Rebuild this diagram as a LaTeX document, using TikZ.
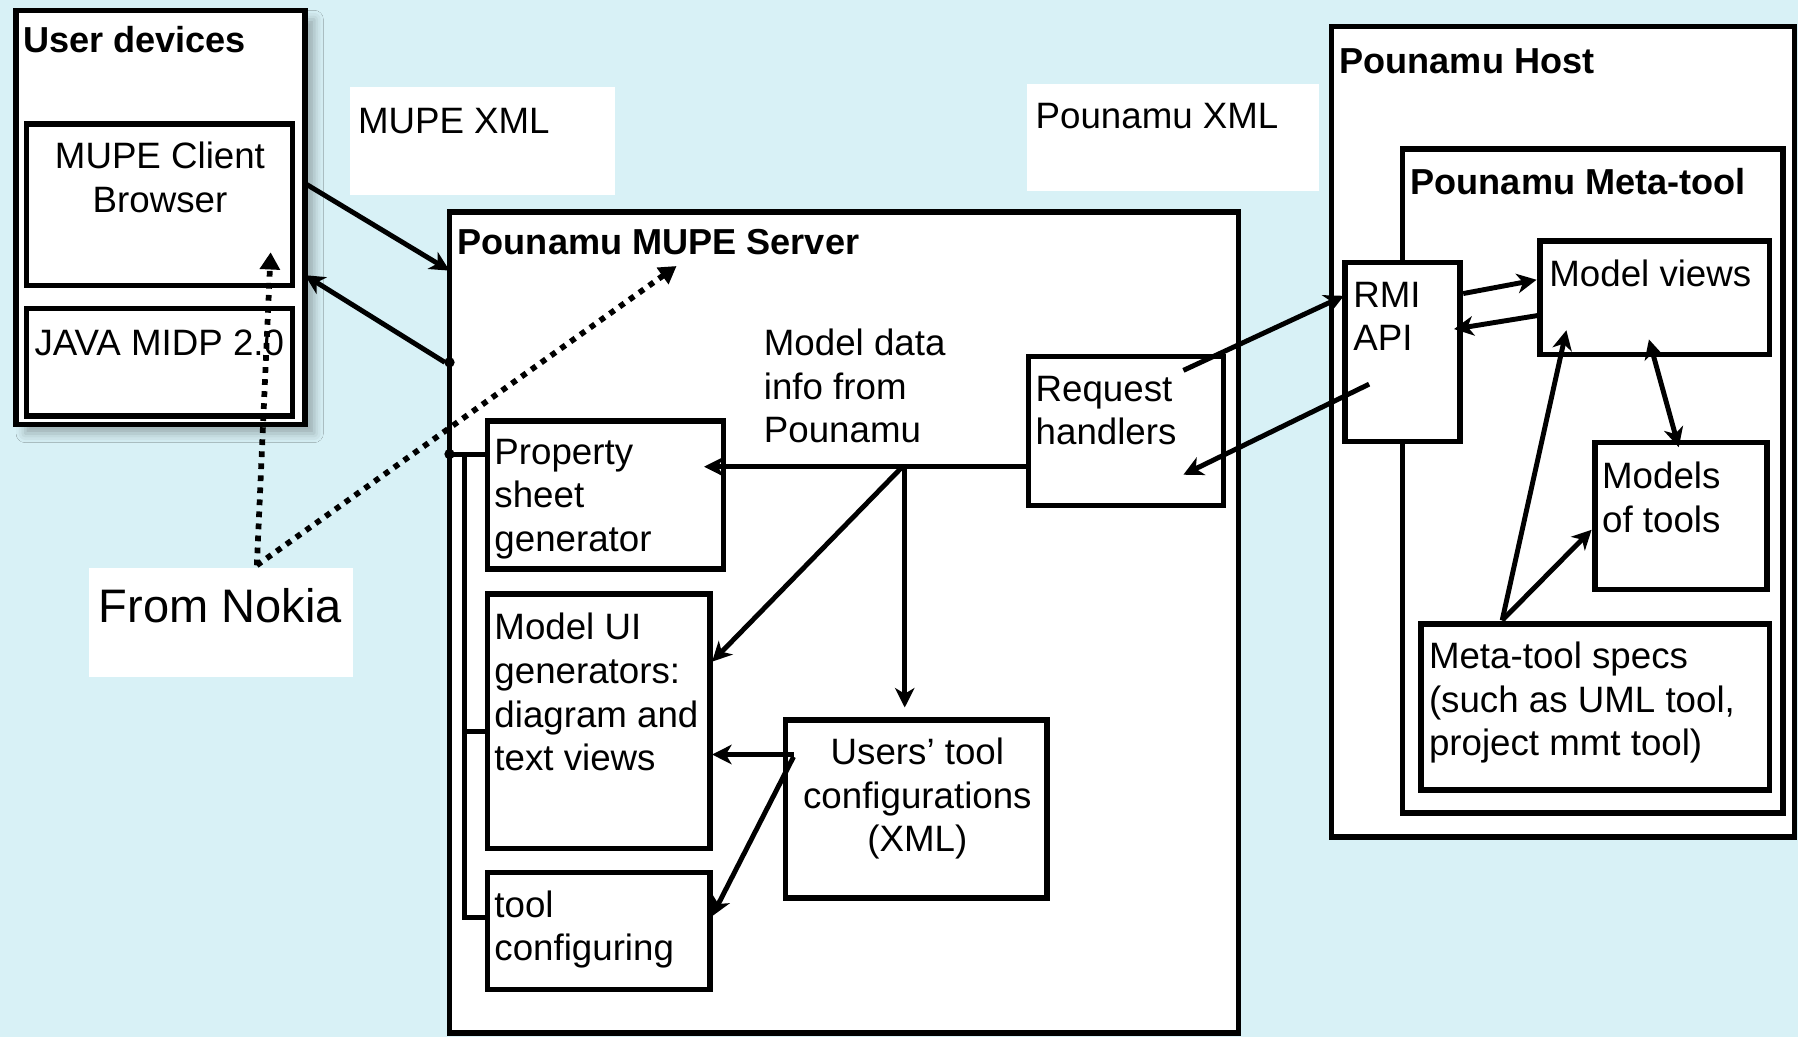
\documentclass[tikz,border=0pt]{standalone}
\usepackage{fontspec}
\setmainfont{Liberation Sans}
\usetikzlibrary{arrows.meta,calc,shadows.blur}
\definecolor{bgcyan}{RGB}{216,241,246}

% multi-line text whose reference point is the first baseline
\newcommand{\txtl}[1]{\begin{tabular}[t]{@{}l@{}}#1\end{tabular}}
\newcommand{\txtc}[1]{\begin{tabular}[t]{@{}c@{}}#1\end{tabular}}

\tikzset{
  box/.style={draw, line width=4.8pt, fill=white, inner sep=0pt, outer sep=0pt, anchor=north west},
  tagbox/.style={fill=white, inner sep=0pt, outer sep=0pt, anchor=north west},
  txt/.style={inner sep=0pt, anchor=base west, font=\fontsize{32}{38}\selectfont},
  ttl/.style={inner sep=0pt, anchor=base west, font=\bfseries\fontsize{31.5}{38}\selectfont},
  conn/.style={line width=4.3pt, -{Stealth[length=17pt,width=17pt,inset=5pt]}},
  conntwo/.style={line width=4.3pt, {Stealth[length=17pt,width=17pt,inset=5pt]}-{Stealth[length=17pt,width=17pt,inset=5pt]}},
  wire/.style={line width=4.3pt},
  dotline/.style={line width=5pt, dash pattern=on 5pt off 5.5pt, -{Triangle[length=15pt,width=17pt]}},
}

\begin{document}
\begin{tikzpicture}[x=1pt, y=-1pt]
  \useasboundingbox (0,0) rectangle (1568,904);
  \fill[bgcyan] (0,0) rectangle (1568,904);

  % ---- user devices ----
  \node[box, minimum width=252pt, minimum height=361pt,
        blur shadow={shadow xshift=8pt, shadow yshift=-8pt, shadow blur radius=8pt, shadow opacity=30}]
        (ud) at (14,9) {};
  \node[box, minimum width=232pt, minimum height=141pt] (browser) at (23,108) {};
  \node[box, minimum width=232pt, minimum height=94pt] (midp) at (23,269) {};
  \node[ttl] (t-ud) at (20,46) {User devices};
  \node[txt, anchor=base] (t-br) at (139.5,147) {\txtc{MUPE Client\\Browser}};
  \node[txt] (t-midp) at (30,310) {JAVA MIDP 2.0};

  % ---- floating labels ----
  \node[tagbox, minimum width=231pt, minimum height=94pt] (mupexml) at (305,76) {};
  \node[txt] (t-mx) at (312,116) {MUPE XML};
  \node[tagbox, minimum width=254pt, minimum height=94pt] (pxml) at (896,73) {};
  \node[txt] (t-px) at (903,112) {Pounamu XML};
  \node[tagbox, minimum width=230pt, minimum height=95pt] (nokia) at (78,495) {};
  \node[txt, font=\fontsize{41}{48}\selectfont] (t-nk) at (86,543) {From Nokia};

  % ---- MUPE server ----
  \node[box, minimum width=688pt, minimum height=716pt] (server) at (392,185) {};
  \node[ttl] (t-srv) at (399,222) {Pounamu MUPE Server};
  \node[box, minimum width=206pt, minimum height=129pt] (psg) at (425,367) {};
  \node[box, minimum width=194pt, minimum height=222pt] (mui) at (425,518) {};
  \node[box, minimum width=194pt, minimum height=102pt] (tc) at (425,761) {};
  \node[box, minimum width=228pt, minimum height=155pt] (utc) at (685,628) {};
  \node[box, minimum width=170pt, minimum height=130pt] (rh) at (897,311) {};
  \node[txt] (t-md) at (666,310) {\txtl{Model data\\info from\\Pounamu}};
  \node[txt] (t-rh) at (903,350) {\txtl{Request\\handlers}};
  \node[txt] (t-psg) at (431,405) {\txtl{Property\\sheet\\generator}};
  \node[txt] (t-mui) at (431,558) {\txtl{Model UI\\generators:\\diagram and\\text views}};
  \node[txt] (t-tc) at (431,800) {\txtl{tool\\configuring}};
  \node[txt, anchor=base] (t-utc) at (800,667) {\txtc{Users’ tool\\configurations\\(XML)}};

  % ---- Pounamu host ----
  \node[box, minimum width=404pt, minimum height=707pt] (host) at (1161,23) {};
  \node[ttl] (t-host) at (1168,64) {Pounamu Host};
  \node[box, minimum width=332pt, minimum height=579pt] (meta) at (1223,130) {};
  \node[ttl] (t-meta) at (1230,170) {Pounamu Meta-tool};
  \node[box, minimum width=100pt, minimum height=156pt] (rmi) at (1173,229) {};
  \node[box, minimum width=200pt, minimum height=99pt] (mv) at (1343,210) {};
  \node[box, minimum width=150pt, minimum height=128pt] (mot) at (1391,386) {};
  \node[box, minimum width=304pt, minimum height=145pt] (mts) at (1239,544) {};
  \node[txt] (t-rmi) at (1180,268) {\txtl{RMI\\API}};
  \node[txt] (t-mv) at (1351,250) {Model views};
  \node[txt] (t-mot) at (1397,426) {\txtl{Models\\of tools}};
  \node[txt] (t-mts) at (1246,583) {\txtl{Meta-tool specs\\(such as UML tool,\\project mmt tool)}};

  % ---- device <-> server ----
  \draw[conn] ($(ud.north east)+(0,151)$) -- ($(server.north west)+(0,51)$);
  \fill ($(server.north west)+(0,131)$) circle[radius=4.5pt];
  \draw[conn] ($(server.north west)+(-4,131)$) -- ($(ud.north east)+(0,231)$);

  % ---- Nokia-supplied parts ----
  \draw[dotline] ($(nokia.north west)+(146,-2)$) -- ($(browser.south west)+(213,-29)$);
  \draw[dotline] ($(nokia.north west)+(146,-2)$) -- ($(server.north west)+(198,47)$);

  % ---- generator bracket ----
  \coordinate (bt) at ($(psg.north west)+(0,29)$);
  \coordinate (bx) at ($(bt)+(-20,0)$);
  \fill (server.west |- bt) circle[radius=4.5pt];
  \draw[wire] (server.west |- bt) -- (bt);
  \draw[wire] (bx) |- ($(tc.north west)+(0,39)$);
  \draw[wire] ($(mui.north west)+(-20,120)$) -- ($(mui.north west)+(0,120)$);

  % ---- model data flow inside the server ----
  \coordinate (fa) at ($(psg.north east)+(-17,40)$);
  \coordinate (gtip) at ($(utc.north west)+(104,-11)$);
  \draw[conn] (rh.west |- fa) -- (fa);
  \draw[conn] (gtip |- fa) -- (gtip);
  \draw[conn] ($(gtip |- fa)+(-2,0)$) -- ($(mui.north east)+(2,59)$);
  \coordinate (us) at ($(utc.north west)+(7,30)$);
  \draw[conn] (us) -- ($(mui.north east)+(2,140)$);
  \draw[conn] ($(us)+(0,2)$) -- ($(tc.north east)+(2,38)$);

  % ---- server <-> host ----
  \draw[conn] ($(rh.north west)+(135,12)$) -- ($(rmi.north west)+(-1,29)$);
  \draw[conn] ($(rmi.north west)+(21,106)$) -- ($(rh.north west)+(135,103)$);

  % ---- inside the meta-tool ----
  \draw[conn] ($(rmi.north east)+(3,27)$) -- ($(mv.north west)+(-3,34)$);
  \draw[conn] ($(mv.north west)+(-1,65)$) -- ($(rmi.north east)+(-5,58)$);
  \draw[conntwo] ($(mv.north west)+(95,86)$) -- ($(mot.north west)+(73,4)$);
  \draw[conn] ($(mts.north west)+(71,-3)$) -- ($(mv.north west)+(23,78)$);
  \draw[conn] ($(mts.north west)+(71,-3)$) -- ($(mot.north west)+(-3,76)$);
\end{tikzpicture}
\end{document}
